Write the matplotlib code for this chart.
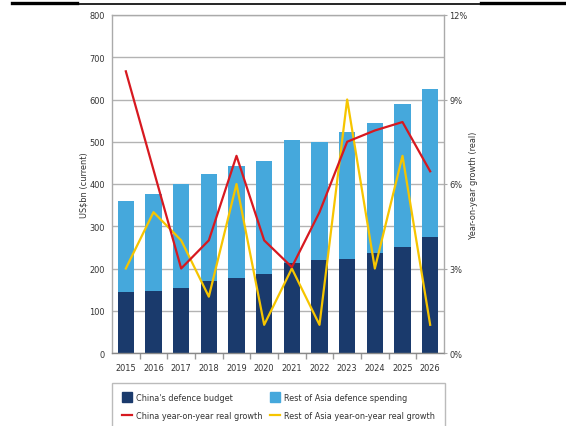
import matplotlib
matplotlib.use("Agg")
import matplotlib.pyplot as plt
from matplotlib.lines import Line2D
from matplotlib.ticker import FixedLocator, FuncFormatter
import numpy as np

plt.rcParams["font.family"] = ["DejaVu Sans"]
plt.rcParams["font.stretch"] = "condensed"

# --- data ---
years = ["2015", "2016", "2017", "2018", "2019", "2020",
         "2021", "2022", "2023", "2024", "2025", "2026"]
china_budget = [145, 147, 155, 170, 177, 187, 214, 220, 223, 237, 251, 274]
asia_total = [360, 376, 401, 424, 442, 454, 504, 499, 523, 545, 590, 624]
rest_of_asia = [t - c for t, c in zip(asia_total, china_budget)]
china_growth = [10.0, 6.5, 3.0, 4.0, 7.0, 4.0, 3.05, 5.0, 7.5, 7.9, 8.2, 6.45]
rest_growth = [3.0, 5.0, 4.0, 2.0, 6.0, 1.0, 3.0, 1.0, 9.0, 3.0, 7.0, 1.0]

NAVY = "#1a3a6c"
LIGHT = "#45a8dc"
RED = "#d71920"
YELLOW = "#f6c500"
GRID = "#b3b3b3"
TXT = "#333333"
FS = 6.6

W, H = 566, 427
fig = plt.figure(figsize=(W / 100, H / 100), dpi=100)
ax = fig.add_axes([112 / W, 1 - 354 / H, (444 - 112) / W, (354 - 16) / H])

x = np.arange(len(years))
bw = 0.6
ax.bar(x, china_budget, bw, color=NAVY, zorder=2)
ax.bar(x, rest_of_asia, bw, bottom=china_budget, color=LIGHT, zorder=2)

ax.set_xlim(-0.5, len(years) - 0.5)
ax.set_ylim(0, 800)
ax.set_yticks(range(0, 801, 100))
ax.grid(axis="y", color=GRID, linewidth=1.0)
ax.set_axisbelow(True)
ax.set_xticks(x)
ax.set_xticklabels(years)
ax.xaxis.set_minor_locator(FixedLocator(x[:-1] + 0.5))
ax.tick_params(axis="x", which="major", length=0, pad=7, labelsize=FS, colors=TXT)
ax.tick_params(axis="x", which="minor", length=4, width=1, color="#999999")
ax.tick_params(axis="y", length=0, pad=5, labelsize=FS, colors=TXT)
ax.set_ylabel("US$bn (current)", fontsize=FS, color=TXT, labelpad=1)
for s in ax.spines.values():
    s.set_color("#aaaaaa")
    s.set_linewidth(1.0)
ax.spines["bottom"].set_color("#888888")

ax2 = ax.twinx()
ax2.plot(x, china_growth, color=RED, linewidth=1.6, zorder=4)
ax2.plot(x, rest_growth, color=YELLOW, linewidth=1.6, zorder=3)
ax2.set_ylim(0, 12)
ax2.set_yticks([0, 3, 6, 9, 12])
ax2.yaxis.set_major_formatter(FuncFormatter(lambda v, p: f"{v:.0f}%"))
ax2.tick_params(axis="y", length=2, pad=2, labelsize=FS, colors=TXT, color="#aaaaaa")
ax2.set_ylabel("Year-on-year growth (real)", fontsize=FS, color=TXT, labelpad=1)
for s in ax2.spines.values():
    s.set_visible(False)

handles = [
    Line2D([], [], marker="s", linestyle="none", markersize=7.5, color=NAVY),
    Line2D([], [], color=RED, linewidth=1.6),
    Line2D([], [], marker="s", linestyle="none", markersize=7.5, color=LIGHT),
    Line2D([], [], color=YELLOW, linewidth=1.6),
]
labels = ["China's defence budget", "China year-on-year real growth",
          "Rest of Asia defence spending", "Rest of Asia year-on-year real growth"]
leg = fig.legend(handles, labels, ncol=2, loc="upper left",
                 bbox_to_anchor=(112 / W, 1 - 384 / H),
                 prop={"size": 6.5, "stretch": "condensed"},
                 frameon=True, fancybox=False,
                 handlelength=1.1, handletextpad=0.4, borderpad=1.15,
                 labelspacing=0.95, columnspacing=0.9, borderaxespad=0)
leg.get_frame().set_edgecolor("#aaaaaa")
leg.get_frame().set_linewidth(1.0)
for t in leg.get_texts():
    t.set_color(TXT)

# header rules along the top edge
fig.add_artist(Line2D([12 / W, 77 / W], [1 - 4.2 / H] * 2, color="black", linewidth=2.4))
fig.add_artist(Line2D([77 / W, 481 / W], [1 - 4.9 / H] * 2, color="black", linewidth=1.2))
fig.add_artist(Line2D([481 / W, 1], [1 - 4.2 / H] * 2, color="black", linewidth=2.4))

fig.savefig("out.png", dpi=100)
